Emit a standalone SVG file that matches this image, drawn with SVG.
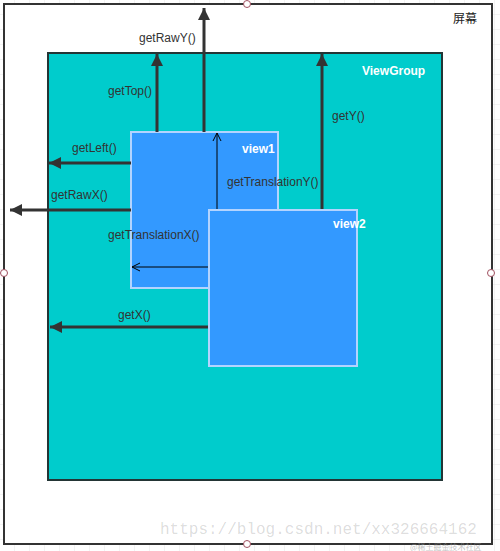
<svg xmlns="http://www.w3.org/2000/svg" width="500" height="551" viewBox="0 0 500 551">
<defs>
<pattern id="grid" width="15" height="15" patternUnits="userSpaceOnUse">
<path d="M15 0V15H0" fill="none" stroke="#e6e6e6" stroke-width="1"/>
</pattern>
<marker id="ah" viewBox="0 0 10 10" refX="10" refY="5" markerWidth="4" markerHeight="4" orient="auto" markerUnits="strokeWidth">
<path d="M0 0L10 5L0 10Z" fill="#333"/>
</marker>
<marker id="oh" viewBox="0 0 10 10" refX="10" refY="5" markerWidth="10" markerHeight="10" orient="auto" markerUnits="userSpaceOnUse">
<path d="M2 1L10 5L2 9" fill="none" stroke="#000" stroke-width="1"/>
</marker>
</defs>
<style>
.lbl{font-family:"Liberation Sans",Arial,sans-serif;font-size:12px;fill:#333}
.wl{font-family:"Liberation Sans",Arial,sans-serif;font-size:12px;font-weight:bold;fill:#fff}
.thick{stroke:#333;stroke-width:3;fill:none;marker-end:url(#ah)}
.thin{stroke:#000;stroke-width:1;fill:none;marker-end:url(#oh)}
.view{fill:#3399ff;stroke:#b3d4ff;stroke-width:2}
.handle{fill:#fff;stroke:#a05060;stroke-width:1}
</style>
<rect width="500" height="551" fill="url(#grid)"/>
<g id="screen">
<rect x="4" y="4" width="488" height="540" fill="#fff" stroke="#333" stroke-width="2"/>
<text x="453" y="23" class="lbl" style="font-family:'Noto Sans CJK SC',sans-serif;fill:#222">屏幕</text>
</g>
<g id="viewgroup">
<rect x="48" y="53" width="394" height="427" fill="#00cccc" stroke="#233535" stroke-width="2"/>
<text x="362" y="75" class="wl">ViewGroup</text>
</g>
<g id="view1">
<rect x="131" y="132" width="147" height="156" class="view"/>
<text x="242" y="153" class="wl">view1</text>
</g>
<g id="connectors">
<line x1="204" y1="132" x2="204" y2="8" class="thick"/>
<line x1="157" y1="132" x2="157" y2="54" class="thick"/>
<line x1="322" y1="210" x2="322" y2="54" class="thick"/>
<line x1="131" y1="163" x2="49" y2="163" class="thick"/>
<line x1="131" y1="210" x2="10" y2="210" class="thick"/>
<line x1="209" y1="327" x2="50" y2="327" class="thick"/>
<line x1="217" y1="210" x2="217" y2="133" class="thin"/>
<line x1="209" y1="267" x2="132" y2="267" class="thin"/>
<text x="139" y="42" class="lbl">getRawY()</text>
<text x="108" y="95" class="lbl">getTop()</text>
<text x="332" y="120" class="lbl">getY()</text>
<text x="72" y="152" class="lbl">getLeft()</text>
<text x="51" y="199" class="lbl">getRawX()</text>
<text x="227" y="186" class="lbl">getTranslationY()</text>
<text x="108" y="239" class="lbl">getTranslationX()</text>
<text x="118" y="319" class="lbl">getX()</text>
</g>
<g id="view2">
<rect x="209" y="210" width="148" height="156" class="view"/>
<text x="333" y="228" class="wl">view2</text>
</g>
<g id="handles">
<circle cx="247" cy="4" r="3.5" class="handle"/>
<circle cx="4" cy="273" r="3.5" class="handle"/>
<circle cx="491" cy="273" r="3.5" class="handle"/>
<circle cx="247" cy="544" r="3.5" class="handle"/>
</g>
<g id="watermark">
<text x="160" y="534" style="font-family:'Liberation Mono',monospace;font-size:16px;fill:#000;fill-opacity:0.15">https://blog.csdn.net/xx326664162</text>
<text x="410" y="550" style="font-family:'Noto Sans CJK SC',sans-serif;font-size:8px;fill:#999;fill-opacity:0.6">@稀土掘金技术社区</text>
</g>
</svg>
